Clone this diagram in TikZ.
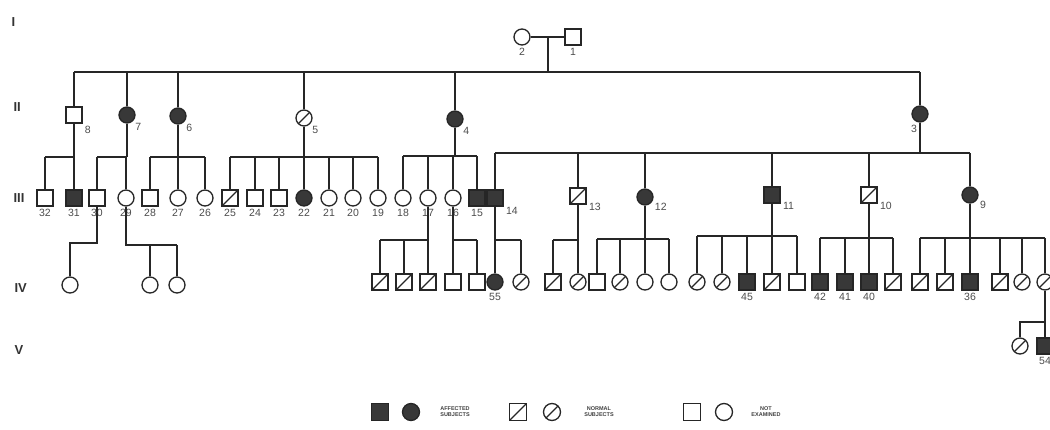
\documentclass[tikz,border=0pt]{standalone}
\usepackage{fontspec}
\setmainfont{Liberation Sans}

\begin{document}
\begin{tikzpicture}[x=1pt,y=-1pt,
  ind/.style={draw=black!85,line width=1.3pt,inner sep=0pt,minimum size=16pt,fill=white},
  male/.style={ind,rectangle},
  female/.style={ind,circle},
  aff/.style={fill=black!78},
  norm/.style={path picture={\draw[black!85,line width=1.2pt] (path picture bounding box.south west) -- (path picture bounding box.north east);}},
  lbl/.style={font=\fontsize{10.5}{11}\selectfont,inner sep=1pt,text=black!70,label distance=1.5pt},
  gen/.style={font=\bfseries\fontsize{13}{14}\selectfont,anchor=west,text=black!80},
  key/.style={font=\bfseries\fontsize{5.5}{6}\selectfont,align=center,text=black!75},
  line/.style={draw=black!85,line width=1.3pt}]
\useasboundingbox (0,0) rectangle (1050,429);
\clip (0,0) rectangle (1050,429);

% generation labels
\node[gen] (gI) at (8,22) {I};
\node[gen] (gII) at (10,107) {II};
\node[gen] (gIII) at (10,198) {III};
\node[gen] (gIV) at (11,288) {IV};
\node[gen] (gV) at (11,350) {V};

% generation I
\node[female,label={[lbl]below:2}] (i2) at (522,37) {};
\node[male,label={[lbl]below:1}] (i1) at (573,37) {};

% generation II
\node[male,label={[lbl]-45:8}] (ii8) at (74,115) {};
\node[female,aff,label={[lbl]-45:7}] (ii7) at (127,115) {};
\node[female,aff,label={[lbl]-45:6}] (ii6) at (178,116) {};
\node[female,norm,label={[lbl]-45:5}] (ii5) at (304,118) {};
\node[female,aff,label={[lbl]-45:4}] (ii4) at (455,119) {};
\node[female,aff,label={[lbl]-100:3}] (ii3) at (920,114) {};

% generation III
\node[male,label={[lbl]below:32}] (iii32) at (45,198) {};
\node[male,aff,label={[lbl]below:31}] (iii31) at (74,198) {};
\node[male,label={[lbl]below:30}] (iii30) at (97,198) {};
\node[female,label={[lbl]below:29}] (iii29) at (126,198) {};
\node[male,label={[lbl]below:28}] (iii28) at (150,198) {};
\node[female,label={[lbl]below:27}] (iii27) at (178,198) {};
\node[female,label={[lbl]below:26}] (iii26) at (205,198) {};
\node[male,norm,label={[lbl]below:25}] (iii25) at (230,198) {};
\node[male,label={[lbl]below:24}] (iii24) at (255,198) {};
\node[male,label={[lbl]below:23}] (iii23) at (279,198) {};
\node[female,aff,label={[lbl]below:22}] (iii22) at (304,198) {};
\node[female,label={[lbl]below:21}] (iii21) at (329,198) {};
\node[female,label={[lbl]below:20}] (iii20) at (353,198) {};
\node[female,label={[lbl]below:19}] (iii19) at (378,198) {};
\node[female,label={[lbl]below:18}] (iii18) at (403,198) {};
\node[female,label={[lbl]below:17}] (iii17) at (428,198) {};
\node[female,label={[lbl]below:16}] (iii16) at (453,198) {};
\node[male,aff,label={[lbl]below:15}] (iii15) at (477,198) {};
\node[male,aff,label={[lbl]-40:14}] (iii14) at (495,198) {};
\node[male,norm,label={[lbl]-30:13}] (iii13) at (578,196) {};
\node[female,aff,label={[lbl]-30:12}] (iii12) at (645,197) {};
\node[male,aff,label={[lbl]-30:11}] (iii11) at (772,195) {};
\node[male,norm,label={[lbl]-30:10}] (iii10) at (869,195) {};
\node[female,aff,label={[lbl]-30:9}] (iii9) at (970,195) {};

% generation IV
\node[female] (iva) at (70,285) {};
\node[female] (ivb) at (150,285) {};
\node[female] (ivc) at (177,285) {};
\node[male,norm] (ivd) at (380,282) {};
\node[male,norm] (ive) at (404,282) {};
\node[male,norm] (ivf) at (428,282) {};
\node[male] (ivg) at (453,282) {};
\node[male] (ivh) at (477,282) {};
\node[female,aff,label={[lbl]below:55}] (iv55) at (495,282) {};
\node[female,norm] (ivi) at (521,282) {};
\node[male,norm] (ivj) at (553,282) {};
\node[female,norm] (ivk) at (578,282) {};
\node[male] (ivl) at (597,282) {};
\node[female,norm] (ivm) at (620,282) {};
\node[female] (ivn) at (645,282) {};
\node[female] (ivo) at (669,282) {};
\node[female,norm] (ivp) at (697,282) {};
\node[female,norm] (ivq) at (722,282) {};
\node[male,aff,label={[lbl]below:45}] (iv45) at (747,282) {};
\node[male,norm] (ivr) at (772,282) {};
\node[male] (ivs) at (797,282) {};
\node[male,aff,label={[lbl]below:42}] (iv42) at (820,282) {};
\node[male,aff,label={[lbl]below:41}] (iv41) at (845,282) {};
\node[male,aff,label={[lbl]below:40}] (iv40) at (869,282) {};
\node[male,norm] (ivt) at (893,282) {};
\node[male,norm] (ivu) at (920,282) {};
\node[male,norm] (ivv) at (945,282) {};
\node[male,aff,label={[lbl]below:36}] (iv36) at (970,282) {};
\node[male,norm] (ivw) at (1000,282) {};
\node[female,norm] (ivx) at (1022,282) {};
\node[female,norm] (ivy) at (1045,282) {};

% generation V
\node[female,norm] (va) at (1020,346) {};
\node[male,aff,label={[lbl]below:54}] (v54) at (1045,346) {};

% key
\node[male,aff,minimum size=17pt] (k1) at (380,412) {};
\node[female,aff,minimum size=17pt] (k2) at (411,412) {};
\node[key] (k3) at (455,412) {AFFECTED\\SUBJECTS};
\node[male,norm,minimum size=17pt] (k4) at (518,412) {};
\node[female,norm,minimum size=17pt] (k5) at (552,412) {};
\node[key] (k6) at (599,412) {NORMAL\\SUBJECTS};
\node[male,minimum size=17pt] (k7) at (692,412) {};
\node[female,minimum size=17pt] (k8) at (724,412) {};
\node[key] (k9) at (766,412) {NOT\\EXAMINED};

% I -> II
\coordinate (mar) at (548,37);
\coordinate (s0) at (0,72);
\draw[line] (i2) -- (i1);
\draw[line] (mar) -- (mar|-s0) (ii8|-s0) -- (ii3|-s0);
\foreach \p in {8,7,6,5,4,3} \draw[line] (ii\p) -- (ii\p|-s0);

% II -> III
\coordinate (s8) at (0,157);
\draw[line] (ii8) -- (ii8|-s8) (iii32|-s8) -- (iii31|-s8);
\foreach \c in {32,31} \draw[line] (iii\c) -- (iii\c|-s8);
\draw[line] (ii7) -- (ii7|-s8) (iii30|-s8) -- (iii29|-s8);
\foreach \c in {30,29} \draw[line] (iii\c) -- (iii\c|-s8);
\draw[line] (ii6) -- (ii6|-s8) (iii28|-s8) -- (iii26|-s8);
\foreach \c in {28,27,26} \draw[line] (iii\c) -- (iii\c|-s8);
\draw[line] (ii5) -- (ii5|-s8) (iii25|-s8) -- (iii19|-s8);
\foreach \c in {25,24,23,22,21,20,19} \draw[line] (iii\c) -- (iii\c|-s8);
\coordinate (s4) at (0,156);
\draw[line] (ii4) -- (ii4|-s4) (iii18|-s4) -- (iii15|-s4);
\foreach \c in {18,17,16,15} \draw[line] (iii\c) -- (iii\c|-s4);
\coordinate (s3) at (0,153);
\draw[line] (ii3) -- (ii3|-s3) (iii14|-s3) -- (iii9|-s3);
\foreach \c in {14,13,12,11,10,9} \draw[line] (iii\c) -- (iii\c|-s3);

% III -> IV
\coordinate (s30) at (0,243);
\draw[line] (iii30) |- (iva|-s30) -- (iva);
\coordinate (s29) at (0,245);
\draw[line] (iii29) |- (ivc|-s29);
\foreach \c in {b,c} \draw[line] (iv\c) -- (iv\c|-s29);
\coordinate (s4b) at (0,240);
\draw[line] (iii17) -- (iii17|-s4b) (ivd|-s4b) -- (ivf|-s4b);
\foreach \c in {d,e,f} \draw[line] (iv\c) -- (iv\c|-s4b);
\draw[line] (iii16) -- (iii16|-s4b) (ivg|-s4b) -- (ivh|-s4b);
\foreach \c in {g,h} \draw[line] (iv\c) -- (iv\c|-s4b);
\draw[line] (iii14) -- (iii14|-s4b) (iv55|-s4b) -- (ivi|-s4b);
\foreach \c in {55,i} \draw[line] (iv\c) -- (iv\c|-s4b);
\draw[line] (iii13) -- (iii13|-s4b) (ivj|-s4b) -- (ivk|-s4b);
\foreach \c in {j,k} \draw[line] (iv\c) -- (iv\c|-s4b);
\coordinate (s12) at (0,239);
\draw[line] (iii12) -- (iii12|-s12) (ivl|-s12) -- (ivo|-s12);
\foreach \c in {l,m,n,o} \draw[line] (iv\c) -- (iv\c|-s12);
\coordinate (s11) at (0,236);
\draw[line] (iii11) -- (iii11|-s11) (ivp|-s11) -- (ivs|-s11);
\foreach \c in {p,q,45,r,s} \draw[line] (iv\c) -- (iv\c|-s11);
\coordinate (s10) at (0,238);
\draw[line] (iii10) -- (iii10|-s10) (iv42|-s10) -- (ivt|-s10);
\foreach \c in {42,41,40,t} \draw[line] (iv\c) -- (iv\c|-s10);
\draw[line] (iii9) -- (iii9|-s10) (ivu|-s10) -- (ivy|-s10);
\foreach \c in {u,v,36,w,x,y} \draw[line] (iv\c) -- (iv\c|-s10);

% IV -> V
\coordinate (sy) at (0,322);
\draw[line] (ivy) -- (v54);
\draw[line] (va) |- (ivy|-sy);
\end{tikzpicture}
\end{document}
